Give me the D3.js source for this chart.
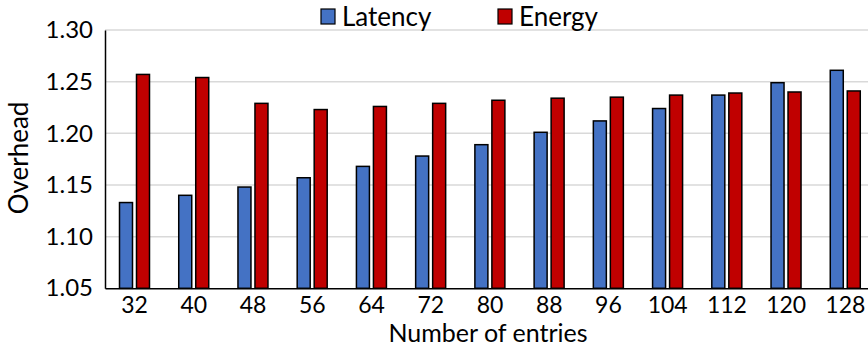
<!DOCTYPE html>
<html><head><meta charset="utf-8">
<script src="https://cdn.jsdelivr.net/npm/d3@7"></script>
<style>body{margin:0;background:#fff;}svg{display:block;font-family:Lato,"Open Sans",sans-serif;}</style>
</head><body>
<svg id="c" width="868" height="350"></svg>
<script>
const categories = ["32","40","48","56","64","72","80","88","96","104","112","120","128"];
const latency = [1.133,1.140,1.148,1.157,1.168,1.178,1.189,1.201,1.212,1.224,1.237,1.249,1.261];
const energy  = [1.257,1.254,1.229,1.223,1.226,1.229,1.232,1.234,1.235,1.237,1.239,1.240,1.241];
const seriesNames = ["Latency","Energy"];
const colors = ["#4472C4","#C00000"];
const yTicks = [1.05,1.10,1.15,1.20,1.25,1.30];

const FONT = "Lato, 'Open Sans', sans-serif";
const svg = d3.select("#c");
const m = {left:105, top:30, right:875, bottom:288.3};
const x = d3.scaleBand().domain(categories).range([m.left, m.right]).paddingInner(0).paddingOuter(0);
const y = d3.scaleLinear().domain([1.05,1.30]).range([m.bottom, m.top]);
const barW = 13, gap = 4, off = 14.5;

// gridlines
svg.append("g").selectAll("line").data(yTicks.slice(1)).join("line")
  .attr("x1", m.left).attr("x2", 868).attr("y1", d=>y(d)).attr("y2", d=>y(d))
  .attr("stroke","#d9d9d9").attr("stroke-width",1.5);

// bars
const data = [latency, energy];
seriesNames.forEach((s,i)=>{
  svg.append("g").selectAll("rect").data(categories).join("rect")
    .attr("x", c=> x(c)+off+i*(barW+gap))
    .attr("width", barW)
    .attr("y", (c,j)=> y(data[i][j]))
    .attr("height", (c,j)=> y(1.05)-y(data[i][j]))
    .attr("fill", colors[i]).attr("stroke","#000").attr("stroke-width",1.5);
});

// y axis
const ya = svg.append("g").attr("transform",`translate(${m.left},0)`)
  .call(d3.axisLeft(y).tickValues(yTicks).tickFormat(d3.format(".2f")).tickSize(0).tickPadding(12));
ya.select(".domain").attr("stroke","#000").attr("stroke-width",1.5);
ya.selectAll("text").attr("font-size",24).attr("fill","#000").attr("font-family",FONT);

// x axis
const xa = svg.append("g").attr("transform",`translate(0,${m.bottom})`)
  .call(d3.axisBottom(x).tickSize(0).tickPadding(8));
xa.select(".domain").attr("stroke","#000").attr("stroke-width",1.5);
xa.selectAll("text").attr("font-size",23).attr("fill","#000").attr("font-family",FONT);

// axis titles
svg.append("text").attr("x",488).attr("y",342).attr("text-anchor","middle")
  .attr("font-size",25).attr("font-family",FONT).text("Number of entries");
svg.append("text").attr("transform","translate(28,158) rotate(-90)").attr("text-anchor","middle")
  .attr("font-size",26).attr("font-family",FONT).text("Overhead");

// legend
const leg = [{name:"Latency", x:321},{name:"Energy", x:498}];
leg.forEach((l,i)=>{
  svg.append("rect").attr("x",l.x).attr("y",9).attr("width",14).attr("height",15)
    .attr("fill",colors[i]).attr("stroke","#000").attr("stroke-width",1.2);
  svg.append("text").attr("x",l.x+21).attr("y",26).attr("font-size",26)
    .attr("font-family",FONT).text(l.name);
});
</script>
</body></html>
